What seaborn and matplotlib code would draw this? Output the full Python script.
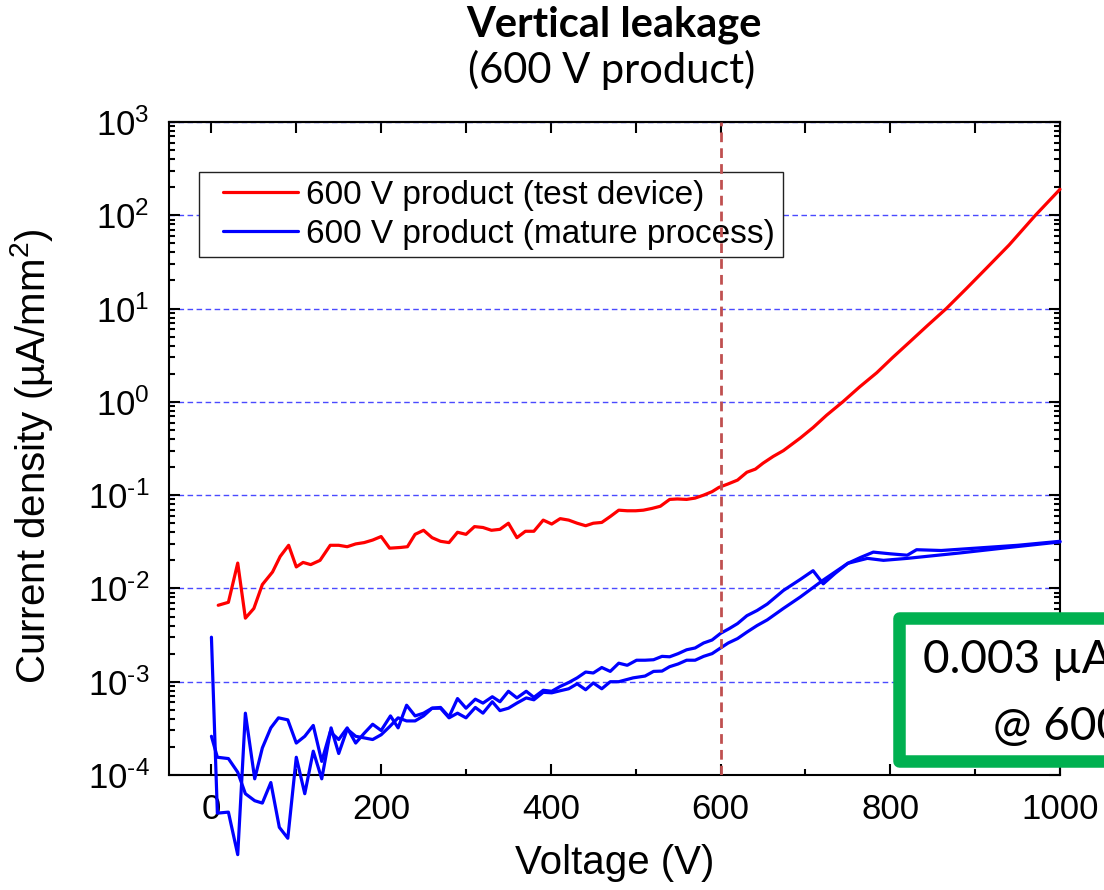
import numpy as np
import pandas as pd
import matplotlib
matplotlib.use("Agg")
import matplotlib.pyplot as plt
import matplotlib.ticker as mticker
import seaborn as sns
from matplotlib.lines import Line2D
from matplotlib.patches import Rectangle
from matplotlib.legend_handler import HandlerLine2D

# ---------------- data ----------------
red_v = [8, 20, 31, 40, 50, 60, 72, 81, 91, 100, 108, 117, 128, 140, 150, 160, 170, 180, 190, 200,
         210, 223, 231, 240, 250, 260, 270, 280, 290, 300, 310, 320, 330, 340, 350, 360, 370, 380, 391, 401,
         411, 421, 431, 441, 450, 460, 470, 480, 490, 500, 509, 519, 529, 540, 549, 560, 570, 580, 590, 598,
         609, 620, 631, 641, 650, 662, 674, 694, 709, 725, 744, 764, 784, 803, 823, 844, 866, 890, 914, 940,
         971, 1000]
red_j = [0.0066, 0.0071, 0.0187, 0.0048, 0.0061, 0.011, 0.015, 0.022, 0.029, 0.017,
         0.019, 0.018, 0.020, 0.029, 0.029, 0.028, 0.030, 0.031, 0.033, 0.036,
         0.027, 0.0275, 0.028, 0.038, 0.042, 0.035, 0.032, 0.031, 0.040, 0.038,
         0.046, 0.045, 0.042, 0.043, 0.050, 0.035, 0.041, 0.041, 0.054, 0.049,
         0.056, 0.054, 0.050, 0.047, 0.050, 0.051, 0.059, 0.069, 0.068, 0.068,
         0.069, 0.072, 0.076, 0.090, 0.091, 0.090, 0.093, 0.100, 0.109, 0.121,
         0.132, 0.145, 0.176, 0.19, 0.22, 0.26, 0.30, 0.41, 0.53, 0.72,
         1.0, 1.45, 2.05, 3.0, 4.4, 6.6, 10, 16.5, 27.5, 48,
         100, 190]

blue_a_v = [0, 7, 20, 31, 40, 51, 60, 70, 79, 90, 100, 110, 120, 130, 140, 150, 160, 170, 180, 190,
            200, 211, 220, 230, 240, 250, 260, 270, 280, 290, 300, 311, 320, 331, 340, 350, 360, 371, 380, 391,
            401, 411, 421, 431, 441, 450, 460, 470, 480, 490, 501, 511, 521, 531, 540, 550, 560, 570, 580, 590,
            600, 610, 620, 631, 643, 655, 674, 694, 709, 721, 735, 750, 765, 780, 800, 820, 831, 860, 900, 950,
            1000]
blue_a_j = [3.0e-3, 3.9e-5, 4.0e-5, 1.4e-5, 4.6e-4, 9.1e-5, 1.95e-4, 3.2e-4, 4.1e-4, 3.9e-4,
            2.2e-4, 2.6e-4, 3.4e-4, 1.4e-4, 2.9e-4, 2.4e-4, 3.2e-4, 2.2e-4, 2.8e-4, 3.5e-4,
            3.0e-4, 4.3e-4, 3.2e-4, 5.6e-4, 4.3e-4, 4.6e-4, 5.2e-4, 5.3e-4, 4.2e-4, 6.6e-4,
            5.2e-4, 6.5e-4, 5.9e-4, 6.9e-4, 6.1e-4, 7.9e-4, 6.7e-4, 7.9e-4, 6.8e-4, 8.1e-4,
            7.9e-4, 8.9e-4, 9.8e-4, 1.1e-3, 1.27e-3, 1.24e-3, 1.42e-3, 1.29e-3, 1.58e-3, 1.5e-3,
            1.7e-3, 1.7e-3, 1.72e-3, 1.87e-3, 1.85e-3, 2.0e-3, 2.2e-3, 2.3e-3, 2.6e-3, 2.8e-3,
            3.3e-3, 3.7e-3, 4.2e-3, 5.1e-3, 5.8e-3, 6.8e-3, 9.5e-3, 1.25e-2, 1.55e-2, 1.12e-2,
            1.45e-2, 1.86e-2, 2.15e-2, 2.45e-2, 2.35e-2, 2.27e-2, 2.6e-2, 2.55e-2, 2.7e-2, 2.9e-2,
            3.2e-2]

blue_b_v = [0, 7, 20, 31, 40, 51, 60, 70, 80, 90, 100, 110, 120, 130, 141, 150, 160, 170, 180, 190,
            200, 210, 220, 230, 240, 250, 260, 270, 280, 290, 300, 311, 320, 331, 340, 350, 360, 371, 380, 391,
            401, 411, 421, 431, 441, 450, 460, 470, 480, 497, 511, 521, 531, 540, 550, 560, 570, 580, 590, 600,
            609, 620, 631, 643, 655, 674, 694, 721, 750, 773, 792, 820, 882, 940, 1000]
blue_b_j = [2.6e-4, 1.55e-4, 1.5e-4, 1.07e-4, 6.3e-5, 5.3e-5, 5.0e-5, 8.3e-5, 2.75e-5, 2.1e-5,
            1.55e-4, 6.3e-5, 1.8e-4, 9.1e-5, 3.2e-4, 1.7e-4, 3.1e-4, 2.6e-4, 2.5e-4, 2.4e-4,
            2.7e-4, 3.3e-4, 4.1e-4, 3.8e-4, 3.8e-4, 4.3e-4, 5.2e-4, 5.2e-4, 4.1e-4, 4.6e-4,
            4.1e-4, 5.3e-4, 4.6e-4, 6.1e-4, 4.9e-4, 5.2e-4, 5.9e-4, 6.7e-4, 6.4e-4, 7.7e-4,
            7.6e-4, 8.0e-4, 8.4e-4, 9.5e-4, 8.2e-4, 9.7e-4, 8.4e-4, 1.0e-3, 1.0e-3, 1.1e-3,
            1.15e-3, 1.29e-3, 1.3e-3, 1.45e-3, 1.55e-3, 1.7e-3, 1.7e-3, 1.87e-3, 2.0e-3, 2.3e-3,
            2.6e-3, 2.9e-3, 3.4e-3, 4.0e-3, 4.6e-3, 6.1e-3, 8.1e-3, 1.23e-2, 1.86e-2, 2.1e-2,
            2.0e-2, 2.1e-2, 2.4e-2, 2.75e-2, 3.15e-2]

series_labels = ["600 V product (test device)", "600 V product (mature process)"]
series_colors = ["#ff0000", "#0000ff"]

x_ticks = [0, 200, 400, 600, 800, 1000]
x_tick_labels = ["0", "200", "400", "600", "800", "1000"]
x_top_ticks = [0, 100, 200, 300, 400, 500, 600, 700, 800, 900, 1000]
y_ticks = [1e-4, 1e-3, 1e-2, 1e-1, 1e0, 1e1, 1e2, 1e3]
y_tick_exponents = ["\u20104", "\u20103", "\u20102", "\u20101", "0", "1", "2", "3"]
y_tick_labels = ["$\\mathregular{10^{%s}}$" % e for e in y_tick_exponents]

title_line1 = "Vertical leakage"
title_line2 = "(600 V product)"
x_label = "Voltage (V)"
y_label = "Current density (µA/mm$\\mathregular{^2}$)"
callout_line1 = "0.003 µA/mm²"
callout_line2 = "@ 600 V"
marker_voltage = 600

# ---------------- style ----------------
sns.set_theme(style="ticks")
plt.rcParams["font.family"] = ["Liberation Sans", "DejaVu Sans"]
plt.rcParams["mathtext.fontset"] = "custom"
plt.rcParams["mathtext.rm"] = "Liberation Sans"
plt.rcParams["mathtext.it"] = "Liberation Sans:italic"
plt.rcParams["mathtext.bf"] = "Liberation Sans:bold"
plt.rcParams["axes.linewidth"] = 1.5
for k in ["text.color", "axes.labelcolor", "xtick.color", "ytick.color", "axes.edgecolor"]:
    plt.rcParams[k] = "black"

W, H = 1104, 890
fig = plt.figure(figsize=(W / 100, H / 100), dpi=100)
fig.patch.set_facecolor("white")
L, R, T, B = 169, 1060, 122, 775
ax = fig.add_axes([L / W, 1 - B / H, (R - L) / W, (B - T) / H])
ax.set_facecolor("white")
ax.set_yscale("log")

df = pd.concat([
    pd.DataFrame({"V": red_v, "J": red_j, "trace": "red"}),
    pd.DataFrame({"V": blue_a_v, "J": blue_a_j, "trace": "blueA"}),
    pd.DataFrame({"V": blue_b_v, "J": blue_b_j, "trace": "blueB"}),
], ignore_index=True)

for trace, color in [("red", series_colors[0]), ("blueA", series_colors[1]), ("blueB", series_colors[1])]:
    sns.lineplot(data=df[df["trace"] == trace], x="V", y="J", color=color, lw=2.3,
                 sort=False, estimator=None, ax=ax, legend=False, clip_on=False, zorder=3)

ax.set_xlim(-50, 1000)
ax.set_ylim(1e-4, 1e3)

# grid
ax.yaxis.grid(True, which="major", color="#4a4aff", lw=1.0, ls=(0, (4, 2.5)))
ax.xaxis.grid(False)
ax.set_axisbelow(True)

# vertical marker
ax.axvline(marker_voltage, color="#c05050", lw=2.0, ls=(0, (3.5, 2.2)), zorder=6)

# ticks
ax.set_xticks(x_ticks, x_tick_labels)
ax.xaxis.set_minor_locator(mticker.MultipleLocator(100))
ax.set_yticks(y_ticks, y_tick_labels)
ax.yaxis.set_minor_locator(mticker.LogLocator(base=10, subs=np.arange(2, 10), numticks=100))
ax.yaxis.set_minor_formatter(mticker.NullFormatter())
ax.tick_params(axis="both", which="major", direction="in", length=8, width=1.5,
               labelsize=25, colors="black")
ax.tick_params(axis="both", which="minor", direction="in", length=4, width=1.5, colors="black")
ax.tick_params(axis="x", which="both", top=False, bottom=True, pad=13)
ax.tick_params(axis="y", which="both", left=True, right=True, pad=14)

sec = ax.secondary_xaxis("top")
sec.set_xticks(x_top_ticks)
sec.tick_params(direction="in", length=8, width=1.5, labeltop=False, colors="black")
sec.spines["top"].set_linewidth(1.5)
for s in ax.spines.values():
    s.set_color("black")

# labels
ax.set_xlabel(x_label, fontsize=29, color="black")
ax.xaxis.set_label_coords(0.5, -0.105)
ax.set_ylabel(y_label, fontsize=29, color="black")
ax.yaxis.set_label_coords(-0.128, 0.488)

# legend
class ShiftedLine(HandlerLine2D):
    def __init__(self, shift, **kw):
        super().__init__(**kw)
        self.shift = shift

    def create_artists(self, legend, orig_handle, xdescent, ydescent, width, height, fontsize, trans):
        arts = super().create_artists(legend, orig_handle, xdescent, ydescent, width, height, fontsize, trans)
        line = arts[0]
        xd = np.asarray(line.get_xdata(), dtype=float)
        yd = np.asarray(line.get_ydata(), dtype=float)
        line.set_data([xd[0] + self.shift * fontsize, xd[-1]], [yd[0], yd[-1]])
        return arts

handles = [Line2D([0], [0], color=c, lw=2.3) for c in series_colors]
leg = ax.legend(handles, series_labels, loc="upper left", bbox_to_anchor=(0.0337, 0.923),
                fontsize=24, frameon=True, fancybox=False, edgecolor="#222222", framealpha=1,
                borderpad=0.22, labelspacing=0.25, handlelength=2.75, handletextpad=0.25,
                borderaxespad=0,
                handler_map={Line2D: ShiftedLine(0.5)})
leg.get_frame().set_linewidth(1.0)
leg.set_zorder(5)
for t in leg.get_texts():
    t.set_color("black")

# titles
fig.text(0.556, 1 - 37 / H, title_line1, ha="center", va="baseline", fontsize=30,
         fontweight="bold", family=["Lato", "DejaVu Sans"], color="black")
fig.text(0.554, 1 - 83 / H, title_line2, ha="center", va="baseline", fontsize=30,
         family=["Lato", "DejaVu Sans"], color="black")

# callout box (extends past the right edge, as in the source)
box = Rectangle((899 / W, 1 - 761 / H), (1253 - 899) / W, (761 - 618) / H,
                transform=fig.transFigure, facecolor="white", edgecolor="#00b050",
                lw=9, joinstyle="round", zorder=20, clip_on=False)
fig.patches.append(box)
fig.text(923 / W, 1 - 673 / H, callout_line1, ha="left", va="baseline", fontsize=33,
         family=["Lato", "DejaVu Sans"], color="black", zorder=21)
fig.text(993 / W, 1 - 740 / H, callout_line2, ha="left", va="baseline", fontsize=33,
         family=["Lato", "DejaVu Sans"], color="black", zorder=21)

fig.savefig("out.png", dpi=100)
